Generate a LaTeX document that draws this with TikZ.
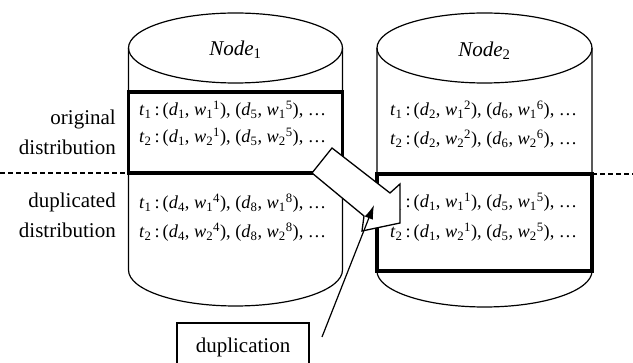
\documentclass[tikz,border=0pt]{standalone}
\usepackage{fontspec}
\setmainfont{Liberation Serif}
\usetikzlibrary{arrows.meta}

% variables of the term lists
\newcommand{\tv}[1]{\textit{t}\textsubscript{#1}}
\newcommand{\dv}[1]{\textit{d}\textsubscript{#1}}
\newcommand{\wv}[2]{\textit{w}\textsubscript{#1}\textsuperscript{#2}}
\newcommand{\termrow}[3]{\tv{#1}\,:\,(\dv{#2}, \wv{#1}{#2}), (\dv{#3}, \wv{#1}{#3}), \ldots}

\begin{document}
\begin{tikzpicture}[x=1pt,y=-1pt,
  every node/.style={font=\fontsize{21}{30}\selectfont, inner sep=0pt},
  thin line/.style={line width=1.2pt},
  thick box/.style={line width=3.4pt},
  cut line/.style={line width=1.2pt, dash pattern=on 5pt off 3pt},
  row/.style={anchor=west, font=\fontsize{18.3}{22}\selectfont},
  side label/.style={anchor=east, align=right},
  block arrow/.style={line width=1.3pt, fill=white, line join=miter},
  pointer/.style={line width=1.2pt, -{Latex[length=14pt,width=9pt]}},
  label box/.style={draw, line width=1.2pt, minimum width=132pt, minimum height=48pt}
]
\clip (0,0) rectangle (633,363);
\fill[white] (0,0) rectangle (633,363);

% storage node 1
\draw[thin line] (128.5,48) -- (128.5,270) arc[start angle=180, end angle=360, x radius=107pt, y radius=36pt] -- (342.5,48);
\draw[thin line] (235.5,48) ellipse[x radius=107pt, y radius=35pt];
\node (n1) at (235.5,50) {\textit{Node}\textsubscript{1}};

% storage node 2
\draw[thin line] (377,48) -- (377,271) arc[start angle=180, end angle=360, x radius=107.5pt, y radius=36pt] -- (592,48);
\draw[thin line] (484.5,48) ellipse[x radius=107.5pt, y radius=35pt];
\node (n2) at (484.5,51) {\textit{Node}\textsubscript{2}};

% partition boundary
\coordinate (cutL0) at (0,173);
\coordinate (cutL1) at (128.5,173);
\coordinate (cutR0) at (592,174);
\coordinate (cutR1) at (633,174);
\draw[cut line] (cutL0) -- (cutL1);
\draw[cut line] (cutR0) -- (cutR1);

% highlighted blocks
\draw[thick box] (128.5,92) rectangle (342.5,173);
\draw[thick box] (377,174) rectangle (592,271);

% term lists
\node[row] (a1) at (139,110) {\termrow{1}{1}{5}};
\node[row] (a2) at (139,137) {\termrow{2}{1}{5}};
\node[row] (a3) at (139,203) {\termrow{1}{4}{8}};
\node[row] (a4) at (139,232) {\termrow{2}{4}{8}};
\node[row] (b1) at (390,110) {\termrow{1}{2}{6}};
\node[row] (b2) at (390,139) {\termrow{2}{2}{6}};
\node[row] (b3) at (390,202) {\termrow{1}{1}{5}};
\node[row] (b4) at (390,232) {\termrow{2}{1}{5}};

% side labels
\node[side label] (orig) at (116,132) {original\\distribution};
\node[side label] (dupl) at (116,215) {duplicated\\distribution};

% copy arrow
\draw[block arrow] (332,148) -- (390,193) -- (400,184) -- (400,223) -- (362,231) -- (364,216) -- (312,173) -- cycle;

% caption and its pointer
\node[label box] (dup) at (243,347) {duplication};
\coordinate (ptail) at (322,337);
\coordinate (ptip) at (374,205);
\draw[pointer] (ptail) -- (ptip);
\end{tikzpicture}
\end{document}
